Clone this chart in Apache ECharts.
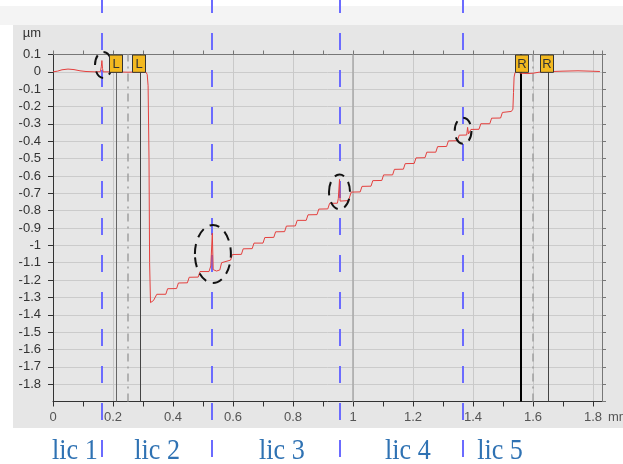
<!DOCTYPE html>
<html><head><meta charset="utf-8">
<script src="https://cdn.jsdelivr.net/npm/echarts@6/dist/echarts.min.js"></script>
<style>html,body{margin:0;padding:0;background:#fff}#c{width:623px;height:464px}</style>
</head><body><div id="c"></div>
<script>
// ---- data ----
const profileX = [
  0.000,0.015,0.030,0.050,0.070,0.090,0.110,0.140,0.158,0.161,0.163,0.165,0.167,0.200,0.250,0.300,0.310,0.314,0.317,0.320,0.322,0.325,0.330,0.335,
  0.340,0.346,0.376,0.382,0.412,0.418,0.448,0.454,0.484,0.490,0.520,0.526,
  0.528,0.531,0.534,0.545,
  0.556,0.562,0.592,0.598,0.628,0.634,0.664,0.670,0.700,0.706,0.736,0.742,0.772,0.778,0.808,0.814,0.844,0.850,0.880,0.886,0.916,0.922,0.948,0.951,
  0.953,0.955,0.957,0.985,
  0.988,0.994,1.024,1.030,1.060,1.066,1.096,1.102,1.132,1.138,1.168,1.174,1.204,1.210,1.240,1.246,1.276,1.282,1.312,1.318,1.348,1.354,
  1.379,1.382,1.385,
  1.388,1.393,1.420,1.426,1.456,1.462,1.492,1.498,
  1.528,1.533,1.535,1.537,1.540,1.548,1.560,1.580,1.600,1.620,1.650,1.700,1.750,1.790,1.823
];
const profileY = [
  0.000,0.004,0.012,0.016,0.013,0.006,0.002,0.000,0.001,0.030,0.065,0.020,0.000,0.000,-0.002,0.000,-0.002,-0.015,-0.080,-0.500,-1.100,-1.330,-1.328,-1.318,
  -1.314,-1.282,-1.282,-1.250,-1.249,-1.217,-1.216,-1.184,-1.183,-1.151,-1.151,-1.119,
  -1.115,-0.930,-1.140,-1.148,
  -1.142,-1.100,-1.085,-1.053,-1.052,-1.020,-1.019,-0.987,-0.987,-0.955,-0.954,-0.922,-0.921,-0.889,-0.888,-0.856,-0.856,-0.824,-0.823,-0.791,-0.790,-0.758,-0.757,-0.730,
  -0.728,-0.620,-0.745,-0.742,
  -0.740,-0.693,-0.692,-0.660,-0.659,-0.627,-0.626,-0.594,-0.594,-0.562,-0.561,-0.529,-0.528,-0.496,-0.495,-0.463,-0.463,-0.431,-0.430,-0.398,-0.397,-0.365,
  -0.364,-0.320,-0.358,
  -0.358,-0.332,-0.331,-0.299,-0.299,-0.267,-0.266,-0.234,
  -0.228,-0.215,-0.120,-0.030,-0.004,-0.002,-0.008,-0.010,-0.008,-0.002,0.001,0.004,0.006,0.004,0.002
];
const xTickLabels = ['0','0.2','0.4','0.6','0.8','1','1.2','1.4','1.6','1.8'];
const yTickLabels = ['0.1','0','-0.1','-0.2','-0.3','-0.4','-0.5','-0.6','-0.7','-0.8','-0.9','-1','-1.1','-1.2','-1.3','-1.4','-1.5','-1.6','-1.7','-1.8'];
const sectionLines = [0.163, 0.530, 0.957, 1.366];
const sectionNames = ['lic 1','lic 2','lic 3','lic 4','lic 5'];
const sectionNamePos = [0.073, 0.347, 0.763, 1.183, 1.490];
const cursorNames = ['L','L','R','R'];
const cursorPos = [0.210, 0.287, 1.563, 1.647];
const cursorMidPos = [0.250, 1.603];
const ellipseX = [0.168, 0.533, 0.955, 1.367];
const ellipseY = [0.040, -1.050, -0.692, -0.340];
const ellipseRX = [0.028, 0.060, 0.035, 0.028];
const ellipseRY = [0.075, 0.167, 0.100, 0.075];

const chart = echarts.init(document.getElementById('c'), null, {renderer:'canvas'});
const fmtX = v => { const s = String(Math.round(v*10)/10); return xTickLabels.includes(s) ? s : ''; };
const fmtY = v => { const s = String(Math.round(v*10)/10); return yTickLabels.includes(s) ? s : ''; };
const FONT = 'Liberation Sans';

const cursorStyles = [
  {color:'#666', width:1, type:'solid'},
  {color:'#444', width:1, type:'solid'},
  {color:'#000', width:2, type:'solid'},
  {color:'#444', width:1, type:'solid'}
];
const mlData = [{xAxis:1.0, lineStyle:{color:'#a9a9a9', width:1.5, type:'solid'}}];
cursorPos.forEach((p,i)=>mlData.push({xAxis:p, lineStyle:cursorStyles[i]}));
cursorMidPos.forEach(p=>mlData.push({xAxis:p, lineStyle:{color:'#a0a0a0', width:1.5, type:[8,5,2,5]}}));

const option = {
  animation:false,
  backgroundColor:'#ffffff',
  grid:{left:53, top:54.5, right:21, bottom:62.5, containLabel:false, outerBoundsMode:'none'},
  xAxis:[
    {type:'value', position:'bottom', min:0, max:1.83, interval:0.1,
     axisLine:{onZero:false, lineStyle:{color:'#333', width:1}},
     axisTick:{length:5, lineStyle:{color:'#333'}},
     axisLabel:{formatter:fmtX, fontSize:13, color:'#555', margin:9, fontFamily:FONT},
     splitLine:{show:false},
     name:'mm', nameLocation:'end', nameGap:3,
     nameTextStyle:{fontSize:13, color:'#555', fontFamily:FONT, verticalAlign:'top', padding:[9,0,0,0]}},
    {type:'value', position:'top', min:0, max:1.83, interval:0.1,
     axisLine:{onZero:false, lineStyle:{color:'#777'}},
     axisTick:{length:4, lineStyle:{color:'#777'}},
     axisLabel:{show:false}, splitLine:{show:false}},
    {type:'value', position:'bottom', min:0, max:1.83, interval:0.2,
     axisLine:{show:false, onZero:false}, axisTick:{show:false}, axisLabel:{show:false},
     splitLine:{show:true, lineStyle:{color:'#c9c9c9', width:1}}}
  ],
  yAxis:[
    {type:'value', position:'left', min:-1.9, max:0.1, interval:0.1,
     axisLine:{show:true, onZero:false, lineStyle:{color:'#333'}},
     axisTick:{show:true, length:5, lineStyle:{color:'#333'}},
     axisLabel:{formatter:fmtY, fontSize:13, color:'#333', margin:12, showMinLabel:false, fontFamily:FONT},
     splitLine:{show:true, lineStyle:{color:'#cbcbcb', width:1}},
     name:'µm', nameLocation:'end', nameGap:21,
     nameTextStyle:{fontSize:13, color:'#333', fontFamily:FONT, align:'right', verticalAlign:'middle', padding:[0,12,0,0]}},
    {type:'value', position:'right', min:-1.9, max:0.1, interval:0.1,
     axisLine:{show:true, onZero:false, lineStyle:{color:'#777'}},
     axisTick:{show:true, length:4, lineStyle:{color:'#777'}},
     axisLabel:{show:false}, splitLine:{show:false}}
  ],
  series:[{
    type:'line', xAxisIndex:0, yAxisIndex:0,
    data: profileX.map((x,i)=>[x, profileY[i]]),
    showSymbol:false, symbol:'none',
    lineStyle:{color:'#e4403e', width:1},
    z:5,
    markLine:{silent:true, symbol:['none','none'], label:{show:false}, animation:false, z:4, data:mlData}
  }]
};
chart.setOption(option);

const P = (x,y) => chart.convertToPixel({xAxisIndex:0, yAxisIndex:0}, [x,y]);
const g = [];
// page background bands
g.push({type:'rect', z:-10, silent:true, shape:{x:0, y:6, width:623, height:19}, style:{fill:'#f4f4f4'}});
g.push({type:'rect', z:-10, silent:true, shape:{x:13, y:25, width:610, height:403}, style:{fill:'#e6e6e6'}});
// blue section lines (under the profile line)
sectionLines.forEach(x=>{
  const px = Math.round(P(x,0)[0]);
  g.push({type:'line', z:3, silent:true, shape:{x1:px, y1:-4, x2:px, y2:458}, style:{stroke:'#6b6bff', lineWidth:2, lineDash:[17,20]}});
});
// cursor label boxes
cursorPos.forEach((x,i)=>{
  const top = P(x,0.1), bot = P(x,0);
  const cx = Math.round(top[0]);
  g.push({type:'rect', z:110, silent:true, shape:{x:cx-6.5, y:top[1]+0.5, width:13, height:bot[1]-top[1]}, style:{fill:'#f3b920', stroke:'#333', lineWidth:1}});
  g.push({type:'text', z:111, silent:true, x:cx, y:(top[1]+bot[1])/2+1, style:{text:cursorNames[i], fill:'#333', font:'13px "Liberation Sans"', align:'center', verticalAlign:'middle'}});
});
// dashed ellipses
ellipseX.forEach((x,i)=>{
  const c = P(x, ellipseY[i]);
  const e = P(x+ellipseRX[i], ellipseY[i]+ellipseRY[i]);
  g.push({type:'ellipse', z:105, silent:true, shape:{cx:c[0], cy:c[1], rx:Math.abs(e[0]-c[0]), ry:Math.abs(c[1]-e[1])}, style:{fill:'none', stroke:'#111', lineWidth:2, lineDash:[10,7]}});
});
// section names
sectionNames.forEach((t,i)=>{
  const px = P(sectionNamePos[i],0)[0];
  g.push({type:'text', z:120, silent:true, x:px, y:451, scaleX:0.87, style:{text:t, fill:'#2f72b3', font:'30px "Liberation Serif"', align:'center', verticalAlign:'middle'}});
});
chart.setOption({graphic:{elements:g}});
</script>
</body></html>
